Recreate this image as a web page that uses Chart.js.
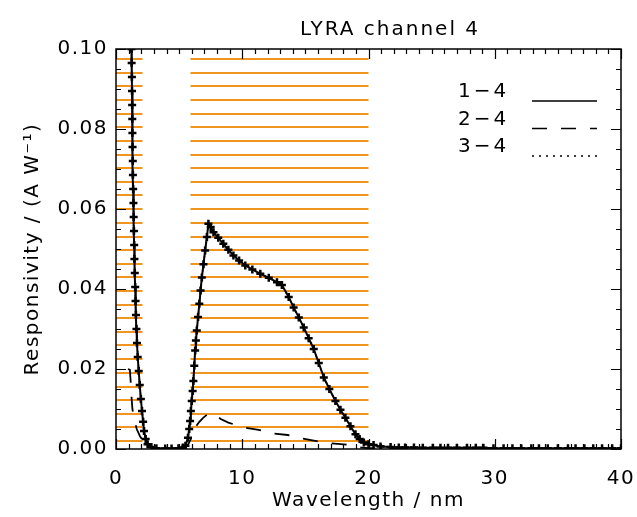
<!DOCTYPE html>
<html>
<head>
<meta charset="utf-8">
<script src="https://cdn.jsdelivr.net/npm/chart.js@4/dist/chart.umd.min.js"></script>
<style>
  body { margin: 0; background: #fff; }
  canvas { display: block; }
</style>
</head>
<body>
<canvas id="lyra" width="637" height="517"></canvas>
<script>
// Responsivity (A/W) against wavelength (nm)
const wave14 = [1.15, 1.22, 1.24, 1.26, 1.27, 1.28, 1.29, 1.30, 1.31, 1.33, 1.34, 1.36, 1.38, 1.40, 1.42, 1.44,
  1.46, 1.49, 1.52, 1.55, 1.58, 1.62, 1.66, 1.72, 1.80, 1.88, 1.97, 2.06, 2.15, 2.22, 2.35, 2.5, 2.8, 3.2,
  3.9, 4.4, 4.95, 5.3, 5.5, 5.7, 5.8, 5.87, 5.93, 6.0, 6.07, 6.13, 6.2, 6.27, 6.33, 6.4, 6.5, 6.6, 6.7, 6.8,
  6.93, 7.06, 7.2, 7.32, 7.5, 7.72, 8.1, 8.5, 8.9, 9.3, 9.75, 10.24, 10.8, 11.43, 12.1, 12.75, 13.14, 13.68,
  14.07, 14.48, 14.87, 15.26, 15.66, 16.06, 16.46, 16.9, 17.38, 17.78, 18.17, 18.57, 18.97, 19.3, 19.63,
  20.0, 20.4, 20.95, 21.75, 22.4, 22.9, 23.6, 24.3, 25.1, 25.7, 26.3, 27.0, 27.8, 28.5, 29.1, 29.9, 30.7,
  31.4, 32.1, 32.9, 33.5, 34.2, 35.0, 35.8, 36.4, 37.1, 37.8, 38.5, 39.3, 40.0];
const resp14 = [0.140, 0.1000, 0.0965, 0.0930, 0.0895, 0.0860, 0.0825, 0.0790, 0.0755, 0.0720, 0.0685, 0.0650,
  0.0615, 0.0580, 0.0545, 0.0510, 0.0475, 0.0440, 0.0405, 0.0370, 0.0335, 0.0300, 0.0265, 0.0230, 0.0195,
  0.0160, 0.0125, 0.0095, 0.0068, 0.0045, 0.0025, 0.0012, 0.0005, 0.0002, 0.0001, 0.0001, 0.0002, 0.0004,
  0.0008, 0.0028, 0.0050, 0.0070, 0.0095, 0.0120, 0.0145, 0.0170, 0.0208, 0.0246, 0.0271, 0.0296, 0.0330,
  0.0363, 0.0396, 0.0429, 0.0462, 0.0496, 0.0530, 0.0563, 0.0555, 0.0542, 0.0528, 0.0513, 0.0498, 0.0484,
  0.0471, 0.0459, 0.0449, 0.0438, 0.0428, 0.0417, 0.0410, 0.0380, 0.0354, 0.0329, 0.0304, 0.0277, 0.0250,
  0.0215, 0.0179, 0.0150, 0.0120, 0.0098, 0.0078, 0.0057, 0.0037, 0.0025, 0.0016, 0.0012, 0.0010, 0.0006,
  0.0005, 0.0004, 0.0004, 0.0004, 0.0003, 0.0003, 0.0003, 0.0003, 0.0003, 0.0003, 0.0003, 0.0003, 0.0002,
  0.0002, 0.0002, 0.0002, 0.0002, 0.0002, 0.0002, 0.0002, 0.0002, 0.0002, 0.0002, 0.0002, 0.0002, 0.0002,
  0.0002];

const wave24 = [0.95, 1.1, 1.16, 1.24, 1.3, 1.4, 1.64, 1.9, 2.2, 2.6, 2.9, 3.5, 4.5, 5.3, 5.7, 6.0, 6.3, 6.6,
  6.9, 7.3, 7.7, 8.3, 8.9, 10.1, 11.3, 12.4, 13.6, 14.8, 16.0, 17.0, 18.3, 19.4, 20.0, 25.0, 30.0, 40.0];
const resp24 = [0.0200, 0.0198, 0.0170, 0.0125, 0.0100, 0.0080, 0.0050, 0.0032, 0.0018, 0.0006, 0.0002,
  0.0001, 0.0001, 0.0002, 0.0010, 0.0030, 0.0055, 0.0068, 0.0078, 0.0088, 0.0088, 0.0075, 0.0066, 0.0054,
  0.0048, 0.0039, 0.0035, 0.0026, 0.0019, 0.0014, 0.0011, 0.0004, 0.0002, 0.0001, 0.0001, 0.0001];

const wave34 = [1.15, 1.22, 1.30, 1.40, 1.50, 1.62, 1.80, 1.97, 2.15, 2.35, 2.8, 3.9, 4.95, 5.5, 5.8, 6.0,
  6.2, 6.4, 6.6, 6.8, 7.06, 7.32, 8.1, 8.9, 9.75, 10.8, 12.1, 13.14, 14.07, 14.87, 15.66, 16.46, 17.38,
  18.17, 18.97, 19.63, 20.4, 22.4, 25.1, 30.7, 35.0, 40.0];
const resp34 = [0.140, 0.1000, 0.0790, 0.0580, 0.0420, 0.0300, 0.0195, 0.0125, 0.0068, 0.0025, 0.0005,
  0.0001, 0.0002, 0.0008, 0.0050, 0.0120, 0.0208, 0.0296, 0.0363, 0.0429, 0.0496, 0.0563, 0.0528, 0.0498,
  0.0471, 0.0449, 0.0428, 0.0410, 0.0354, 0.0304, 0.0250, 0.0179, 0.0120, 0.0078, 0.0037, 0.0016, 0.0010,
  0.0004, 0.0003, 0.0003, 0.0002, 0.0002];

const seriesLabels = ['1\u22124', '2\u22124', '3\u22124'];

// hatched wavelength bands and the levels of their hatch lines
const bandRanges = [[0, 2.1], [5.9, 20]];
const hatchLevels = [0.0020, 0.0054, 0.0088, 0.0122, 0.0156, 0.0191, 0.0225, 0.0259, 0.0293, 0.0327,
  0.0361, 0.0395, 0.0429, 0.0463, 0.0497, 0.0531, 0.0566, 0.0600, 0.0634, 0.0668, 0.0702, 0.0736,
  0.0770, 0.0804, 0.0838, 0.0872, 0.0907, 0.0941, 0.0975];

const xTicks = [0, 10, 20, 30, 40];
const yTicks = [0, 0.02, 0.04, 0.06, 0.08, 0.10];

const FONT = 'DejaVu Sans';
const ORANGE = '#ef9520';

const points = (xs, ys) => xs.map((x, i) => ({ x, y: ys[i] }));

// IDL's vector font is wider than DejaVu: open the letters up a little
const espacement = {
  id: 'espacement',
  beforeDraw(chart) {
    chart.ctx.letterSpacing = '1.5px';
  },
};

const hachures = {
  id: 'hachures',
  beforeDatasetsDraw(chart) {
    const { ctx, chartArea, scales: { x, y } } = chart;
    ctx.save();
    ctx.beginPath();
    ctx.rect(chartArea.left, chartArea.top, chartArea.width, chartArea.height);
    ctx.clip();
    ctx.strokeStyle = ORANGE;
    ctx.lineWidth = 2;
    bandRanges.forEach(([debut, fin]) => {
      const x0 = x.getPixelForValue(debut);
      const x1 = x.getPixelForValue(fin);
      hatchLevels.forEach((niveau) => {
        const py = Math.round(y.getPixelForValue(niveau));
        ctx.beginPath();
        ctx.moveTo(x0, py);
        ctx.lineTo(x1, py);
        ctx.stroke();
      });
    });
    ctx.restore();
  },
};

const cadre = {
  id: 'cadre',
  afterDatasetsDraw(chart) {
    const { ctx, chartArea: { left, right, top, bottom }, scales: { x, y } } = chart;
    ctx.save();
    ctx.strokeStyle = '#000';
    ctx.lineWidth = 1.5;
    ctx.strokeRect(left, top, right - left, bottom - top);
    ctx.lineWidth = 1.2;
    ctx.beginPath();
    for (let v = 0; v <= 40; v += 1) {
      const px = Math.round(x.getPixelForValue(v)) + 0.5;
      const len = v % 10 === 0 ? 10 : 5;
      ctx.moveTo(px, bottom); ctx.lineTo(px, bottom - len);
      ctx.moveTo(px, top); ctx.lineTo(px, top + len);
    }
    for (let k = 0; k <= 20; k += 1) {
      const py = Math.round(y.getPixelForValue(k * 0.005)) + 0.5;
      const len = k % 4 === 0 ? 10 : 5;
      ctx.moveTo(left, py); ctx.lineTo(left + len, py);
      ctx.moveTo(right, py); ctx.lineTo(right - len, py);
    }
    ctx.stroke();
    ctx.restore();
  },
};

const legende = {
  id: 'legende',
  afterDraw(chart) {
    const { ctx } = chart;
    ctx.save();
    ctx.font = `20px "${FONT}"`;
    ctx.letterSpacing = '3px';
    ctx.fillStyle = '#000';
    ctx.textBaseline = 'middle';
    ctx.textAlign = 'left';
    chart.data.datasets.forEach((ds, i) => {
      const cy = 92 + i * 27.5;
      ctx.fillText(ds.label, 458, cy);
      ctx.strokeStyle = '#000';
      ctx.lineWidth = 1.5;
      ctx.setLineDash(ds.borderDash || []);
      ctx.beginPath();
      ctx.moveTo(532, cy + 9);
      ctx.lineTo(597, cy + 9);
      ctx.stroke();
    });
    ctx.letterSpacing = '2px';
    ctx.textAlign = 'center';
    ctx.setLineDash([]);
    ctx.fillText('LYRA channel 4', 390, 30);
    ctx.restore();
  },
};

new Chart(document.getElementById('lyra'), {
  type: 'line',
  plugins: [espacement, hachures, cadre, legende],
  data: {
    datasets: [
      {
        label: seriesLabels[0],
        data: points(wave14, resp14),
        borderColor: '#000',
        borderWidth: 2,
        pointStyle: 'cross',
        pointRadius: 4,
        pointBorderWidth: 2.5,
        pointBorderColor: '#000',
        borderDash: [],
      },
      {
        label: seriesLabels[1],
        data: points(wave24, resp24),
        borderColor: '#000',
        borderWidth: 1.8,
        pointRadius: 0,
        borderDash: [15, 14],
      },
      {
        label: seriesLabels[2],
        data: points(wave34, resp34),
        borderColor: '#000',
        borderWidth: 1.5,
        pointRadius: 0,
        borderDash: [2, 5],
      },
    ],
  },
  options: {
    responsive: false,
    animation: false,
    events: [],
    layout: { padding: { top: 49, right: 16, left: 0, bottom: 0 } },
    plugins: {
      legend: { display: false },
      tooltip: { enabled: false },
      title: { display: false },
    },
    scales: {
      x: {
        type: 'linear',
        min: 0,
        max: 40,
        afterFit: (s) => { s.height = 68; s.paddingLeft = 0; s.paddingRight = 0; },
        afterBuildTicks: (s) => { s.ticks = xTicks.map((value) => ({ value })); },
        grid: { display: false, drawTicks: false },
        border: { display: false },
        ticks: { color: '#000', padding: 18, maxRotation: 0, font: { family: FONT, size: 20 } },
        title: {
          display: true,
          text: 'Wavelength / nm',
          color: '#000',
          font: { family: FONT, size: 20 },
          padding: { top: 0, bottom: 4 },
        },
      },
      y: {
        type: 'linear',
        min: 0,
        max: 0.1,
        afterFit: (s) => { s.width = 116; s.paddingTop = 0; s.paddingBottom = 0; },
        afterBuildTicks: (s) => { s.ticks = yTicks.map((value) => ({ value })); },
        grid: { display: false, drawTicks: false },
        border: { display: false },
        ticks: {
          color: '#000',
          padding: 8,
          font: { family: FONT, size: 20 },
          callback: (v) => v.toFixed(2),
        },
        title: {
          display: true,
          text: 'Responsivity / (A W\u207B\u00B9)',
          color: '#000',
          font: { family: FONT, size: 20 },
          padding: { top: 21, bottom: 0 },
        },
      },
    },
  },
});
</script>
</body>
</html>
